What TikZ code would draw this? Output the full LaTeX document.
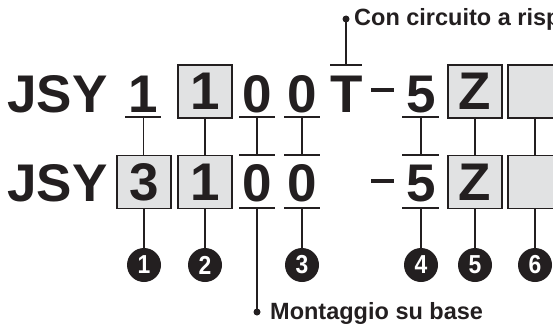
\documentclass[tikz,border=0pt]{standalone}
\usepackage{fontspec}
\setmainfont{Liberation Sans}
\definecolor{boxgrey}{HTML}{E1E2E3}
\definecolor{ink}{HTML}{231F20}
\begin{document}
\begin{tikzpicture}[x=1pt,y=-1pt,
  lw/.style={line width=1.8pt, draw=ink},
  bigtxt/.style={inner sep=0pt, text=ink, font=\fontsize{53}{53}\selectfont\bfseries, anchor=base},
  digitbox/.style={draw=ink, line width=1.8pt, fill=boxgrey, minimum width=54pt, minimum height=53pt, inner sep=0pt, text=ink, font=\fontsize{53}{53}\selectfont\bfseries},
  callout/.style={circle, fill=ink, minimum size=34pt, inner sep=0pt, text=white, font=\fontsize{26}{26}\selectfont\bfseries},
  dotnode/.style={circle, fill=ink, minimum size=7pt, inner sep=0pt},
  labeltxt/.style={inner sep=0pt, text=ink, font=\fontsize{23.5}{23.5}\selectfont\bfseries, anchor=base west},
  dashbar/.style={fill=ink}
]
\useasboundingbox (0,0) rectangle (553,329);

% ---------- top row ----------
\node[bigtxt, anchor=base west] (jsyt) at (7,112) {JSY};
\node[bigtxt] (d1t) at (143.5,112) {1};
\draw[lw] (125,117) -- (161,117);
\coordinate (u1t) at (143.5,117);
\node[digitbox] (b2t) at (205,91.5) {1};
\node[bigtxt] (d3t) at (257,112) {0};
\draw[lw] (239,117) -- (275,117);
\coordinate (u3t) at (257,117);
\node[bigtxt] (d4t) at (302,112) {0};
\draw[lw] (284,117) -- (320,117);
\coordinate (u4t) at (302,117);
\node[bigtxt] (tt) at (347,112) {T};
\draw[lw] (330,65) -- (362,65);
\coordinate (oTt) at (346,65);
\fill[dashbar] (371,88) rectangle (394,92);
\node[bigtxt] (d5t) at (421,112) {5};
\draw[lw] (402,117) -- (439,117);
\coordinate (u5t) at (421,117);
\node[digitbox] (b6t) at (475,91.5) {Z};
\node[digitbox] (b7t) at (535,91.5) {};

% ---------- bottom row ----------
\node[bigtxt, anchor=base west] (jsyb) at (7,201) {JSY};
\node[digitbox] (b1b) at (144,182) {3};
\node[digitbox] (b2b) at (205,182) {1};
\node[bigtxt] (d3b) at (257,201) {0};
\draw[lw] (239,155) -- (275,155);
\draw[lw] (239,208) -- (275,208);
\coordinate (o3b) at (257,155);
\coordinate (u3b) at (257,208);
\node[bigtxt] (d4b) at (302,201) {0};
\draw[lw] (284,155) -- (320,155);
\draw[lw] (284,208) -- (320,208);
\coordinate (o4b) at (302,155);
\coordinate (u4b) at (302,208);
\fill[dashbar] (371,179) rectangle (394,183);
\node[bigtxt] (d5b) at (421,201) {5};
\draw[lw] (402,155) -- (439,155);
\draw[lw] (402,208) -- (439,208);
\coordinate (o5b) at (421,155);
\coordinate (u5b) at (421,208);
\node[digitbox] (b6b) at (475,182) {Z};
\node[digitbox] (b7b) at (535,182) {};

% ---------- connectors between rows ----------
\draw[lw] (u1t) -- (u1t |- b1b.north);
\draw[lw] (b2t.south) -- (b2b.north);
\draw[lw] (u3t) -- (o3b);
\draw[lw] (u4t) -- (o4b);
\draw[lw] (u5t) -- (o5b);
\draw[lw] (b6t.south) -- (b6b.north);
\draw[lw] (b7t.south) -- (b7b.north);

% ---------- callouts ----------
\node[callout] (c1) at (144,265) {\scalebox{0.88}[1]{1}};
\node[callout] (c2) at (205,265) {\scalebox{0.88}[1]{2}};
\node[callout] (c3) at (302,265) {\scalebox{0.88}[1]{3}};
\node[callout] (c4) at (421,265) {\scalebox{0.88}[1]{4}};
\node[callout] (c5) at (475,265) {\scalebox{0.88}[1]{5}};
\node[callout] (c6) at (535,265) {\scalebox{0.88}[1]{6}};
\draw[lw] (b1b.south) -- (c1.north);
\draw[lw] (b2b.south) -- (c2.north);
\draw[lw] (u4b) -- (c3.north);
\draw[lw] (u5b) -- (c4.north);
\draw[lw] (b6b.south) -- (c5.north);
\draw[lw] (b7b.south) -- (c6.north);

% ---------- labels ----------
\node[dotnode] (dotT) at (346,19) {};
\draw[lw] (oTt) -- (dotT.center);
\node[labeltxt] (lblT) at (354,26) {Con circuito a risp};
\node[dotnode] (dotM) at (257,312) {};
\draw[lw] (u3b) -- (dotM.center);
\node[labeltxt] (lblM) at (270,319) {Montaggio su base};
\end{tikzpicture}
\end{document}
